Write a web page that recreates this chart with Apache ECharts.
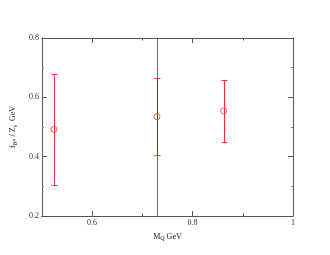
<!DOCTYPE html>
<html>
<head>
<meta charset="utf-8">
<script src="https://cdn.jsdelivr.net/npm/echarts@6/dist/echarts.min.js"></script>
<style>
  html, body { margin: 0; padding: 0; background: #fff; }
  #chart { width: 330px; height: 255px; }
</style>
</head>
<body>
<div id="chart"></div>
<script>
/* === Data === */
const MQ = [0.524, 0.729, 0.862];
const F_CENTRAL = [0.492, 0.535, 0.554];
const F_LOW = [0.303, 0.406, 0.449];
const F_HIGH = [0.680, 0.665, 0.658];
const VLINE_X = 0.729;
const X_MAJOR = [0.6, 0.8, 1];
const X_MINOR = [0.7, 0.9];

const FONT = "'Liberation Serif', 'DejaVu Serif', serif";
const AXIS_COLOR = '#555';
const RED = '#ff3030';

const points = MQ.map((x, i) => [x, F_CENTRAL[i]]);
const bars = MQ.map((x, i) => [x, F_LOW[i], F_HIGH[i]]);

const nameRich = {
  n: { fontFamily: FONT, fontSize: 8, color: '#222', lineHeight: 10 },
  s: { fontFamily: FONT, fontSize: 6, color: '#222', verticalAlign: 'bottom', lineHeight: 10, padding: [4, 0, 0, 0] }
};

/* x axes: 0/1 bottom major+minor, 2/3 top major+minor */
function xAxisDef(pos, ticks, len, withLabel, withName) {
  return {
    type: 'value', position: pos, min: 0.5, max: 1,
    splitLine: { show: false },
    axisLine: { show: true, onZero: false, lineStyle: { color: AXIS_COLOR, width: 1 } },
    axisTick: { show: true, inside: true, length: len, customValues: ticks, lineStyle: { color: AXIS_COLOR } },
    axisLabel: withLabel ? {
      show: true, customValues: X_MAJOR, margin: 3,
      fontFamily: FONT, fontSize: 8, color: '#333'
    } : { show: false },
    name: withName ? '{n|M}{s|Q}{n| GeV}' : '',
    nameLocation: 'middle', nameGap: 9,
    nameTextStyle: { rich: nameRich }
  };
}

function yAxisDef(pos, withLabel, withName) {
  return {
    type: 'value', position: pos, min: 0.2, max: 0.8, interval: 0.2,
    splitLine: { show: false },
    axisLine: { show: true, onZero: false, lineStyle: { color: AXIS_COLOR, width: 1 } },
    axisTick: { show: true, inside: true, length: 5, lineStyle: { color: AXIS_COLOR } },
    minorTick: { show: true, splitNumber: 2, length: 2, lineStyle: { color: '#888' } },
    axisLabel: withLabel ? { show: true, margin: 3, fontFamily: FONT, fontSize: 8, color: '#333' } : { show: false },
    name: withName ? '{n|f}{s|B*}{n| / Z}{s|s}{n|  GeV}' : '',
    nameLocation: 'middle', nameGap: 17, nameRotate: 90,
    nameTextStyle: { rich: nameRich }
  };
}

// snap to pixel centre so 1px lines stay crisp
const px = v => Math.round(v) + 0.5;

const chart = echarts.init(document.getElementById('chart'));
chart.setOption({
  animation: false,
  backgroundColor: '#fff',
  grid: { left: 38, right: 37, top: 38, bottom: 39 },
  xAxis: [
    xAxisDef('bottom', X_MAJOR, 5, true, true),
    xAxisDef('bottom', X_MINOR, 2.5, false, false),
    xAxisDef('top', X_MAJOR, 5, false, false),
    xAxisDef('top', X_MINOR, 2.5, false, false)
  ],
  yAxis: [
    yAxisDef('left', true, true),
    yAxisDef('right', false, false)
  ],
  series: [
    {
      type: 'custom',
      data: bars,
      encode: { x: 0, y: [1, 2] },
      renderItem: (params, api) => {
        const lo = api.coord([api.value(0), api.value(1)]);
        const hi = api.coord([api.value(0), api.value(2)]);
        const x = px(lo[0]);
        const yl = px(lo[1]);
        const yh = px(hi[1]);
        const cap = 3;
        const style = { stroke: RED, lineWidth: 1 };
        return {
          type: 'group',
          children: [
            { type: 'line', shape: { x1: x, y1: yl, x2: x, y2: yh }, style },
            { type: 'line', shape: { x1: x - cap, y1: yl, x2: x + cap, y2: yl }, style },
            { type: 'line', shape: { x1: x - cap, y1: yh, x2: x + cap, y2: yh }, style }
          ]
        };
      },
      z: 2
    },
    {
      type: 'custom',
      data: [[VLINE_X, 0.2, 0.8]],
      encode: { x: 0, y: [1, 2] },
      renderItem: (params, api) => {
        const lo = api.coord([api.value(0), api.value(1)]);
        const hi = api.coord([api.value(0), api.value(2)]);
        const x = px(lo[0]);
        return {
          type: 'line',
          shape: { x1: x, y1: lo[1], x2: x, y2: hi[1] },
          style: { stroke: '#2020e0', lineWidth: 1, opacity: 0.7 }
        };
      },
      z: 3
    },
    {
      type: 'scatter',
      data: points,
      symbol: 'circle', symbolSize: 6,
      itemStyle: { color: 'rgba(255,255,255,0)', borderColor: RED, borderWidth: 1 },
      z: 4
    }
  ]
});
</script>
</body>
</html>
